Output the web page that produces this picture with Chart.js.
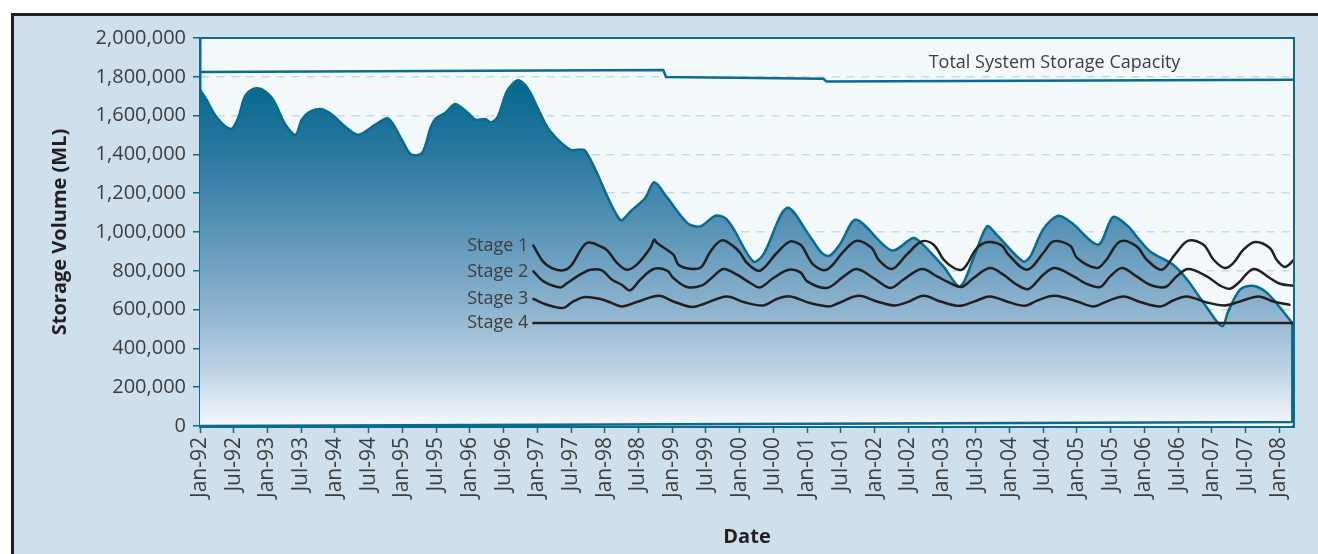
<!DOCTYPE html>
<html>
<head>
<meta charset="utf-8">
<script src="https://cdn.jsdelivr.net/npm/chart.js@4.4.1/dist/chart.umd.min.js"></script>
<style>
  html, body { margin: 0; padding: 0; background: #ffffff; overflow: hidden; width: 1318px; height: 554px; }
  #frame { position: absolute; left: 11px; top: 13px; width: 1400px; height: 600px;
           border-left: 3px solid #231f20; border-top: 3px solid #231f20; background: #cfdfeb; }
  #wrap { position: absolute; left: 14px; top: 16px; width: 1304px; height: 538px; }
</style>
</head>
<body>
<div id="frame"></div>
<div id="wrap"><canvas id="c" width="1304" height="538" style="width:1304px;height:538px"></canvas></div>
<script>
// ---- DATA (x = months since Jan-92) ----
const xTickLabels = ['Jan-92','Jul-92','Jan-93','Jul-93','Jan-94','Jul-94','Jan-95','Jul-95','Jan-96','Jul-96',
  'Jan-97','Jul-97','Jan-98','Jul-98','Jan-99','Jul-99','Jan-00','Jul-00','Jan-01','Jul-01','Jan-02','Jul-02',
  'Jan-03','Jul-03','Jan-04','Jul-04','Jan-05','Jul-05','Jan-06','Jul-06','Jan-07','Jul-07','Jan-08'];

const storageMonths = [0,1,3,5.5,6.8,8,9.5,11,13,15.2,17,18.1,19.5,21.5,23.5,25.8,28.2,31.2,33.5,35.9,37.5,39.5,41,42,43.6,45.4,47.7,49,50.7,51.8,53,54.6,56.4,57.6,
  58.8,60.5,62.3,65.9,68.5,74.7,76.9,79.2,80.8,83.1,86.7,89,91.7,93.4,94.8,98.4,100.2,104.4,108.5,110.6,112,113.9,116.7,123,126.9,128.6,132.3,135.2,137.6,140,141.7,
  146.4,147.7,150,152.7,155.1,159.8,162.4,165.1,166.6,169,173.1,175.6,179,181.8,182.9,185,187.2,189.8,194.3];
const storageValues = [1733000,1690000,1590000,1531000,1589000,1699000,1738000,1735000,1682000,1553000,1501000,1579000,1620000,1634000,1604000,1544000,1501000,1553000,1585000,1476000,1400000,1407000,1536000,1587000,1613000,1660000,1613000,1579000,1582000,1565000,1596000,1725000,1781000,1765000,
  1716000,1613000,1519000,1424000,1420000,1063000,1115000,1175000,1256000,1177000,1046000,1029000,1084000,1072000,1021000,848000,883000,1124000,977000,892000,878000,940000,1063000,
  905000,969000,935000,820000,720000,866000,1029000,986000,848000,874000,1015000,1084000,1046000,935000,1077000,1029000,977000,900000,831000,754000,615000,514000,591000,703000,723000,686000,531000];

const capacityMonths = [0,82.4,82.9,110.9,111.4,194.6];
const capacityValues = [1825000,1835000,1799000,1790000,1776000,1785000];

const edgeMonths = [0,194.3,194.3];
const edgeValues = [0,20000,531000];

const stage1Months = [59.3,61,62.5,64.4,65.9,68.8,71.5,72.6,74.2,75.9,77.7,80.1,80.8,81.3,84.2,85.1,87.2,89.1,90.8,92.8,94.9,96.1,97.3,99.6,102.6,105,106.8,107.3,109.1,111.5,114.5,116.8,119.5,120.7,123.1,125.7,128.4,130.5,132.3,134.1,135.5,136.4,138.2,140.2,142.6,143.8,147.1,150,151.8,154.8,156,159.5,161,163.7,166.6,168.4,171.1,173.4,175.8,178.5,180.3,182.3,183.8,185.6,187.7,190.3,191.5,193,194.8];
const stage1Values = [930000,848500,815000,802000,823000,943000,922700,900000,840000,805700,831500,917500,960300,943000,883000,831500,810800,817500,900000,956700,925800,891700,840000,800500,891700,951500,934600,917500,831500,805700,900000,955200,917500,857000,809300,883000,951500,934600,857000,814400,805700,831500,917500,948400,931000,883000,805700,891700,951500,929400,866000,814400,848500,951500,925800,857000,805700,883000,955200,934600,857000,814400,840000,908800,948400,917500,857000,819600,862400];

const stage2Months = [59.3,61.1,64.1,65.3,67.6,69.4,71.5,73.3,75,76.5,78.3,80.7,83.1,84.2,86.6,89.3,91,93.1,95.5,97.9,99.6,102,104.7,106.8,108,111.5,114.5,116.8,119.8,122.8,125.1,128.4,131.1,133.4,135.5,137.6,140.5,142.9,145.3,147.4,150,152.1,155.4,157.7,160.1,161.9,164,166.6,169,171.7,173.7,175.8,179.1,181.5,183.2,184.7,187.4,190.3,192.1,194.5];
const stage2Values = [797000,745300,714400,737000,780000,805700,802000,754000,728300,699000,754000,809300,800500,763000,716500,724700,763000,809300,780000,737100,714400,763000,805700,792000,745300,711300,771000,809300,763000,711300,754000,809300,771000,737000,716500,763000,814400,780000,728300,706200,780000,814400,771000,733000,716500,771000,814400,771000,728300,716500,771000,809300,771000,723000,708000,737000,809300,763000,733000,723000];

const stage3Months = [59.3,61.7,64.1,65,66.4,68.5,71.2,73,75,77.7,81.6,84.2,87.5,89.6,93.7,96.7,100.2,102.6,105,108.2,111.8,113.3,117.1,120.4,123.4,125.7,128.7,131.7,135.2,138.2,140.5,143.5,146.8,148.8,152,156,158.9,161.3,164.3,167.2,170.8,173.1,175.5,179.1,182.3,185,188.3,190.9,193.8];
const stage3Values = [654600,625000,608200,613000,642000,665000,654600,637000,616500,639000,671600,642000,613400,629000,668000,639000,621600,654600,668000,636000,616500,630000,671600,642000,621600,637000,671600,642000,619500,647000,668000,642000,619500,645000,671000,642000,616500,642000,668000,639000,616500,647000,668000,637000,621600,642000,668000,642000,625200];

const stage4Months = [59.3,194.6];
const stage4Values = [531000,531000];

const stageNames = ['Stage 1','Stage 2','Stage 3','Stage 4'];
const capacityLabel = 'Total System Storage Capacity';
const capacityLabelPos = [152, 1873000];

// ---- helpers ----
const pts = (xs, ys) => xs.map((x, i) => ({x, y: ys[i]}));
const TEAL = '#0a6a8f';
const DARK = '#231f20';
const TXT = '#3d3d3d';
const FONT = "'Open Sans', 'DejaVu Sans', sans-serif";

const storageFill = (ctx) => {
  const ca = ctx.chart.chartArea;
  if (!ca) return 'rgba(0,0,0,0)';
  const g = ctx.chart.ctx.createLinearGradient(0, ca.top, 0, ca.bottom);
  g.addColorStop(0, '#00628a');
  g.addColorStop(0.12, '#05688e');
  g.addColorStop(0.3, '#2a799f');
  g.addColorStop(0.5, '#5a95b8');
  g.addColorStop(0.7, '#8eb4cf');
  g.addColorStop(0.86, '#bed4e4');
  g.addColorStop(1, '#f5f8fb');
  return g;
};

const lineDs = (label, data, color, width, order, extra) => Object.assign({
  label, data, borderColor: color, borderWidth: width, pointRadius: 0, fill: false,
  tension: 0.35, order, borderCapStyle: 'round', borderJoinStyle: 'round'
}, extra || {});

const plotDecor = {
  id: 'plotDecor',
  beforeDraw(chart) {
    const {ctx, chartArea: ca} = chart;
    ctx.save();
    ctx.fillStyle = '#f3f8fb';
    ctx.fillRect(ca.left, ca.top, ca.right - ca.left, ca.bottom - ca.top);
    ctx.restore();
  },
  afterDatasetsDraw(chart) {
    const {ctx, chartArea: ca, scales} = chart;
    const xs = scales.x, ys = scales.y;
    ctx.save();
    ctx.strokeStyle = TEAL;
    ctx.lineWidth = 2;
    ctx.beginPath();
    ctx.moveTo(ca.left, ca.top); ctx.lineTo(ca.right, ca.top); ctx.lineTo(ca.right, ca.bottom);
    ctx.stroke();
    // stage labels
    ctx.fillStyle = TXT;
    ctx.font = '18px ' + FONT;
    ctx.textAlign = 'right';
    ctx.textBaseline = 'middle';
    const starts = [[stage1Months[0], stage1Values[0]], [stage2Months[0], stage2Values[0]],
                    [stage3Months[0], stage3Values[0]], [stage4Months[0], stage4Values[0]]];
    stageNames.forEach((n, i) => {
      ctx.fillText(n, xs.getPixelForValue(starts[i][0]) - 5, ys.getPixelForValue(starts[i][1]));
    });
    ctx.textAlign = 'center';
    ctx.fillText(capacityLabel, xs.getPixelForValue(capacityLabelPos[0]), ys.getPixelForValue(capacityLabelPos[1]));
    ctx.restore();
  }
};

new Chart(document.getElementById('c'), {
  type: 'line',
  data: {
    datasets: [
      lineDs('Storage', pts(storageMonths, storageValues), TEAL, 2.5, 6,
             {fill: 'origin', backgroundColor: storageFill, tension: 0.3}),
      lineDs('Edge', pts(edgeMonths, edgeValues), TEAL, 2.5, 5, {tension: 0}),
      lineDs('Capacity', pts(capacityMonths, capacityValues), TEAL, 2.5, 4, {tension: 0}),
      lineDs('Stage 1', pts(stage1Months, stage1Values), DARK, 2.5, 1),
      lineDs('Stage 2', pts(stage2Months, stage2Values), DARK, 2.5, 1),
      lineDs('Stage 3', pts(stage3Months, stage3Values), DARK, 2.5, 1),
      lineDs('Stage 4', pts(stage4Months, stage4Values), DARK, 2.5, 1, {tension: 0})
    ]
  },
  options: {
    responsive: false,
    animation: false,
    events: [],
    layout: { padding: { top: 22, right: 24, left: 0, bottom: 0 } },
    plugins: { legend: { display: false }, tooltip: { enabled: false } },
    scales: {
      x: {
        type: 'linear', min: 0, max: 194.6,
        afterFit(s) { s.height = 128; },
        afterBuildTicks(s) { s.ticks = xTickLabels.map((l, i) => ({value: i * 6})); },
        ticks: {
          autoSkip: false, maxRotation: 90, minRotation: 90, padding: 4,
          color: TXT, font: { family: FONT, size: 21 },
          callback: (v, i) => xTickLabels[i]
        },
        grid: { drawOnChartArea: false, drawTicks: true, tickLength: 7, tickColor: TEAL, tickWidth: 1.5 },
        border: { display: true, color: TEAL, width: 3 },
        title: { display: true, text: 'Date', color: DARK, font: { family: FONT, size: 20, weight: 'bold' },
                 padding: { top: 0, bottom: 5 } }
      },
      y: {
        min: 0, max: 2000000,
        afterFit(s) { s.width = 186; },
        ticks: {
          stepSize: 200000, padding: 7, color: TXT, font: { family: FONT, size: 20 },
          callback: (v) => v.toLocaleString('en-US')
        },
        grid: { drawOnChartArea: true, color: '#c6d9e7', lineWidth: 1.5, tickLength: 7, tickColor: TEAL,
                tickWidth: 1.5, tickBorderDash: [] },
        border: { display: true, color: TEAL, width: 2.5, dash: [8, 7] },
        title: { display: true, text: 'Storage Volume (ML)', color: DARK,
                 font: { family: FONT, size: 20, weight: 'bold' }, padding: { top: 34, bottom: 0 } }
      }
    }
  },
  plugins: [plotDecor]
});
</script>
</body>
</html>
